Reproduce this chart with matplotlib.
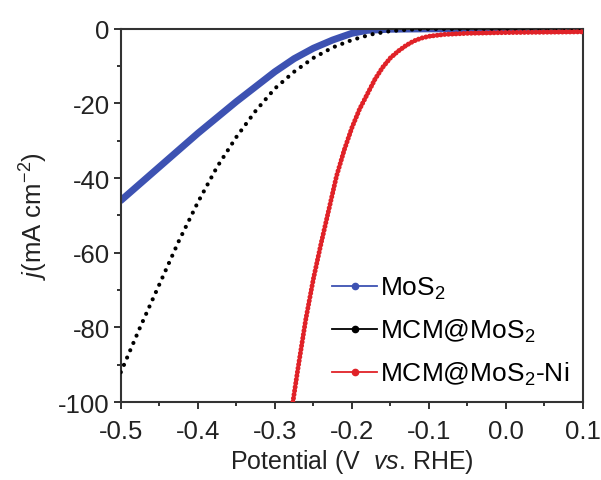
import matplotlib
matplotlib.use('Agg')
import matplotlib.pyplot as plt
from matplotlib.lines import Line2D
from matplotlib.ticker import MultipleLocator

plt.rcParams['font.family'] = ['Liberation Sans', 'DejaVu Sans']
plt.rcParams['mathtext.fontset'] = 'custom'
plt.rcParams['mathtext.rm'] = 'Liberation Sans'
plt.rcParams['mathtext.it'] = 'Liberation Sans:italic'

# values (potential in V vs. RHE, j in mA cm^-2)
mos2_v = [-0.5, -0.45, -0.4, -0.35, -0.3, -0.275, -0.25, -0.225, -0.2, -0.18, -0.15, -0.1, 0.0, 0.1]
mos2_j = [-46, -37, -28, -19.5, -11.5, -8, -5.2, -3, -1.2, -0.4, -0.1, 0, 0, 0]

mcm_v = [-0.5, -0.475, -0.45, -0.425, -0.4, -0.375, -0.35, -0.325, -0.3, -0.275, -0.25,
         -0.225, -0.2, -0.175, -0.15, -0.125, -0.1, 0.0, 0.1]
mcm_j = [-92, -80, -68.5, -57, -46.5, -37, -29, -22, -16, -11.5, -7.8,
         -5, -3, -1.5, -0.6, -0.2, -0.05, 0, 0]

ni_v = [-0.2766, -0.27, -0.26, -0.25, -0.24, -0.23, -0.22, -0.21, -0.2, -0.19, -0.18, -0.17,
        -0.16, -0.15, -0.14, -0.13, -0.12, -0.11, -0.1, -0.08, -0.05, 0.0, 0.05, 0.1]
ni_j = [-100, -91, -78, -67, -57.5, -48.5, -39.5, -32.5, -26.5, -21.5, -17.5, -13.5,
        -10.3, -7.8, -6, -4.5, -3.3, -2.5, -2.0, -1.5, -1.2, -1.0, -0.9, -0.8]

labels = ['MoS$_2$', 'MCM@MoS$_2$', 'MCM@MoS$_2$-Ni']
colors = ['#3d52b2', '#000000', '#e02228']

fig = plt.figure(figsize=(6.01, 4.81), dpi=100)
ax = fig.add_axes([0.201, 0.162, 0.769, 0.776])

ax.plot(mos2_v, mos2_j, color=colors[0], lw=5, solid_capstyle='round', zorder=2)
ax.plot(mcm_v, mcm_j, color=colors[1], lw=3, linestyle=(0, (0.01, 1.9)),
        dash_capstyle='round', zorder=3)
ax.plot(ni_v, ni_j, color=colors[2], lw=3.6, linestyle=(0, (0.01, 0.75)),
        dash_capstyle='round', zorder=4)

ax.set_xlim(-0.5, 0.1)
ax.set_ylim(-100, 0)
ax.xaxis.set_minor_locator(MultipleLocator(0.05))
ax.yaxis.set_minor_locator(MultipleLocator(10))
ax.set_xticks([-0.5, -0.4, -0.3, -0.2, -0.1, 0.0, 0.1])
ax.set_xticklabels(['-0.5', '-0.4', '-0.3', '-0.2', '-0.1', '0.0', '0.1'])
ax.set_yticks([0, -20, -40, -60, -80, -100])
ax.set_yticklabels(['0', '-20', '-40', '-60', '-80', '-100'])
ax.tick_params(which='major', direction='out', length=5, width=1.3, labelsize=18.5,
               colors='#222222')
ax.tick_params(axis='x', which='major', pad=7)
ax.tick_params(axis='y', which='major', pad=3)
ax.tick_params(which='minor', direction='out', length=3, width=1.3, colors='#222222')
for s in ax.spines.values():
    s.set_linewidth(1.5)
    s.set_color('#333333')

ax.set_xlabel('Potential (V  $\\it{vs}$. RHE)', fontsize=18, color='#222222', labelpad=3)
ax.set_ylabel('$j$(mA cm$^{-2}$)', fontsize=18.5, color='#222222', labelpad=6)

handles = [Line2D([], [], color=c, lw=1.3, marker='o', markersize=4.5) for c in colors]
ax.legend(handles, labels, loc='lower right', bbox_to_anchor=(1.01, -0.01), frameon=False,
          fontsize=19, handlelength=1.7, handletextpad=0.1, labelspacing=0.6,
          borderaxespad=0.3)

fig.savefig('out.png', dpi=100)
